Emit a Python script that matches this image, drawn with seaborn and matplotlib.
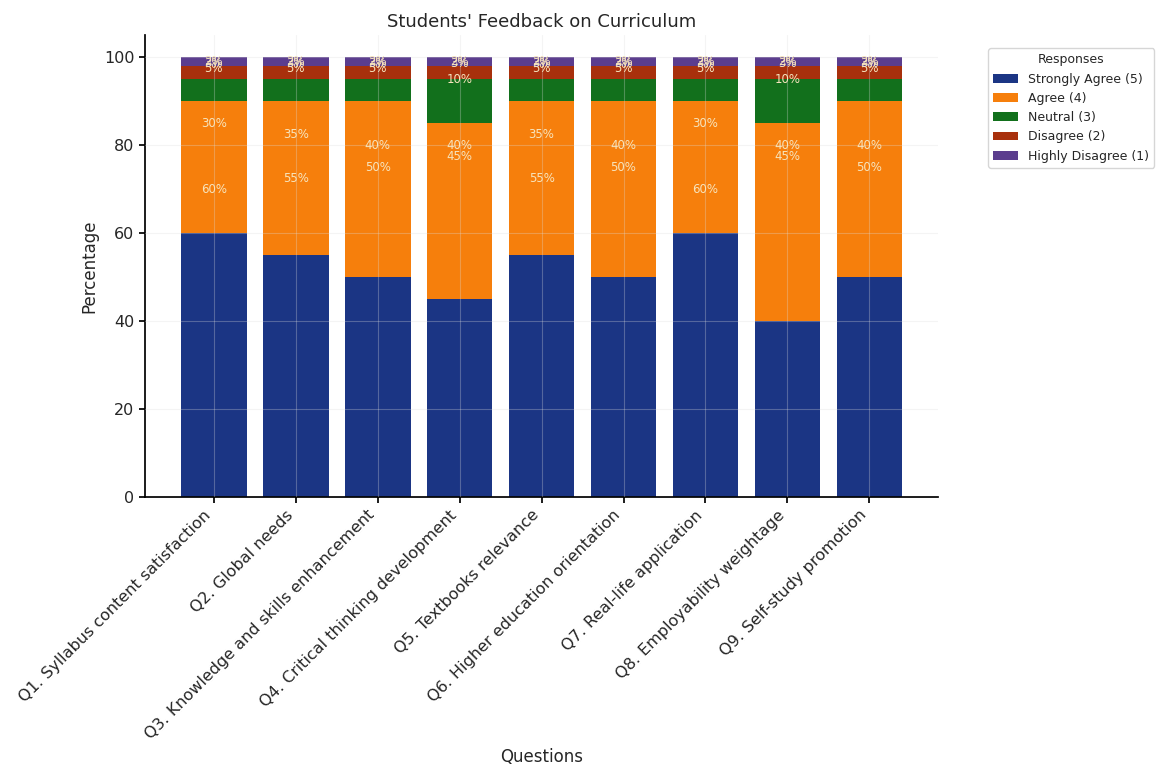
import numpy as np
import matplotlib
matplotlib.use("Agg")
import matplotlib.pyplot as plt
import seaborn as sns

questions = [
    "Q1. Syllabus content satisfaction",
    "Q2. Global needs",
    "Q3. Knowledge and skills enhancement",
    "Q4. Critical thinking development",
    "Q5. Textbooks relevance",
    "Q6. Higher education orientation",
    "Q7. Real-life application",
    "Q8. Employability weightage",
    "Q9. Self-study promotion",
]
strongly_agree = [60, 55, 50, 45, 55, 50, 60, 40, 50]
agree = [30, 35, 40, 40, 35, 40, 30, 45, 40]
neutral = [5, 5, 5, 10, 5, 5, 5, 10, 5]
disagree = [3, 3, 3, 3, 3, 3, 3, 3, 3]
highly_disagree = [2, 2, 2, 2, 2, 2, 2, 2, 2]

series_names = ["Strongly Agree (5)", "Agree (4)", "Neutral (3)", "Disagree (2)", "Highly Disagree (1)"]
series_vals = [strongly_agree, agree, neutral, disagree, highly_disagree]
colors = ["#1b3584", "#f67f0c", "#12701c", "#a8300c", "#5b3d8e"]

sns.set_theme(style="whitegrid")
plt.rcParams["font.family"] = ["DejaVu Sans"]

fig = plt.figure(figsize=(11.64, 7.67), dpi=100)
ax = fig.add_axes([0.1246, 0.352, 0.6814, 0.602])

bottom = np.zeros(len(questions))
for name, vals, c in zip(series_names, series_vals, colors):
    sns.barplot(x=questions, y=vals, bottom=bottom, color=c, label=name,
                ax=ax, width=0.8, linewidth=0, saturation=1)
    bottom = bottom + np.array(vals)

# value labels (positioned as in the original chart)
for vals in series_vals:
    for i, v in enumerate(vals):
        ax.text(i, 100 - v / 2, f"{v}%", ha="center", va="center",
                color="#f6e4bd", fontsize=8.5)

ax.set_ylim(0, 105)
ax.set_xlim(-0.84, len(questions) - 0.16)
ax.set_axisbelow(False)
ax.grid(True, color="#dddddd", alpha=0.3, linewidth=0.8)
sns.despine(ax=ax)
ax.spines["left"].set_color("black")
ax.spines["bottom"].set_color("black")
ax.tick_params(axis="both", which="both", length=4, color="black",
               left=True, bottom=True, labelsize=11.5)
ax.set_xticks(range(len(questions)))
ax.set_xticklabels(questions, rotation=45, ha="right", fontsize=11.5)
ax.set_yticks([0, 20, 40, 60, 80, 100])

ax.set_title("Students' Feedback on Curriculum", fontsize=13)
ax.set_xlabel("Questions", fontsize=12)
ax.set_ylabel("Percentage", fontsize=12)

leg = ax.legend(title="Responses", loc="upper left", bbox_to_anchor=(1.055, 0.985),
                fontsize=9, title_fontsize=9, frameon=True)

fig.savefig("out.png", dpi=100)
